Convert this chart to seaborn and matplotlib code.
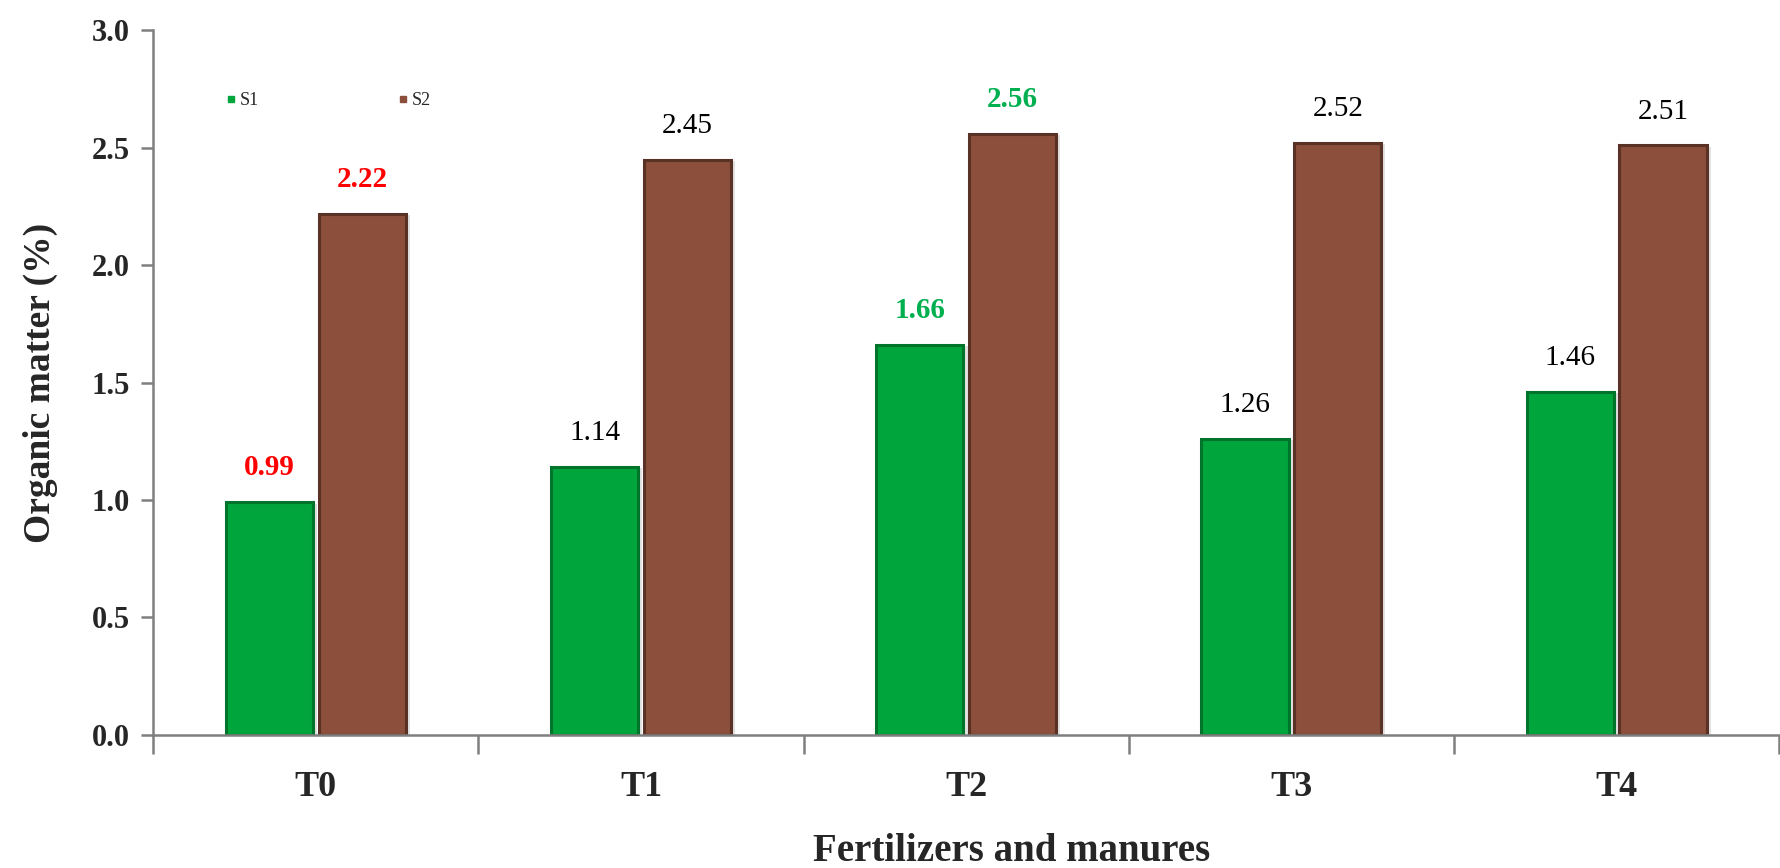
import matplotlib
matplotlib.use("Agg")
import matplotlib.pyplot as plt
import seaborn as sns
import pandas as pd
from matplotlib.lines import Line2D
from matplotlib.ticker import FixedLocator, NullFormatter
import matplotlib.patheffects as pe

# Data
treatments = ["T0", "T1", "T2", "T3", "T4"]
s1_values = [0.99, 1.14, 1.66, 1.26, 1.46]
s2_values = [2.22, 2.45, 2.56, 2.52, 2.51]
series_names = ["S1", "S2"]
s1_label_colors = ["#ff0000", "#000000", "#00b050", "#000000", "#000000"]
s2_label_colors = ["#ff0000", "#000000", "#00b050", "#000000", "#000000"]

df = pd.DataFrame({
    "Treatment": treatments * 2,
    "Series": [series_names[0]] * len(treatments) + [series_names[1]] * len(treatments),
    "Value": s1_values + s2_values,
})

sns.set_theme(style="white")
plt.rcParams["font.family"] = ["Liberation Serif", "DejaVu Serif"]

fill_colors = {"S1": "#00a53c", "S2": "#8b4f3c"}
edge_colors = {"S1": "#00742a", "S2": "#5a3225"}

fig = plt.figure(figsize=(17.81, 8.68), dpi=100)
ax = fig.add_axes([0.086, 0.1535, 0.913, 0.8115])

sns.barplot(data=df, x="Treatment", y="Value", hue="Series", order=treatments,
            hue_order=series_names, palette=fill_colors, width=0.57, gap=0.06,
            ax=ax, legend=False, saturation=1)

# Shadows and darker outlines on the bars
n = len(treatments)
for i, patch in enumerate(ax.patches[:2 * n]):
    key = series_names[i // n]
    patch.set_edgecolor(edge_colors[key])
    patch.set_linewidth(2.2)
    patch.set_path_effects([pe.SimplePatchShadow(offset=(3, -1), shadow_rgbFace="#cfcfcf", alpha=0.6),
                            pe.Normal()])

# Value labels above bars
for i, patch in enumerate(ax.patches[:2 * n]):
    s = i // n
    j = i % n
    val = s1_values[j] if s == 0 else s2_values[j]
    col = (s1_label_colors if s == 0 else s2_label_colors)[j]
    bold = col != "#000000"
    ax.annotate(f"{val:.2f}", (patch.get_x() + patch.get_width() / 2, val),
                xytext=(0, 15), textcoords="offset points", ha="center", va="bottom",
                fontsize=21, color=col, fontweight="bold" if bold else "normal")

ax.set_ylim(0, 3.0)
ax.set_xlim(-0.5, n - 0.5)
ax.set_yticks([0, 0.5, 1.0, 1.5, 2.0, 2.5, 3.0])
ax.set_yticklabels([f"{v:.1f}" for v in [0, 0.5, 1.0, 1.5, 2.0, 2.5, 3.0]])

for side in ["top", "right"]:
    ax.spines[side].set_visible(False)
for side in ["left", "bottom"]:
    ax.spines[side].set_color("#7f7f7f")
    ax.spines[side].set_linewidth(1.8)

ax.tick_params(axis="y", which="major", left=True, length=9, width=1.8, color="#7f7f7f",
               labelsize=22, pad=8)
ax.tick_params(axis="x", which="major", bottom=False, labelsize=26, pad=20)
ax.xaxis.set_minor_locator(FixedLocator([k - 0.5 for k in range(n + 1)]))
ax.xaxis.set_minor_formatter(NullFormatter())
ax.tick_params(axis="x", which="minor", bottom=True, length=14, width=1.8, color="#7f7f7f")
for lbl in ax.get_xticklabels() + ax.get_yticklabels():
    lbl.set_fontweight("bold")

ax.set_xlabel("Fertilizers and manures", fontsize=28, fontweight="bold", va="center")
ax.xaxis.set_label_coords(0.528, -0.166)
ax.set_ylabel("Organic matter (%)", fontsize=27, fontweight="bold", labelpad=24)

handles = [Line2D([0], [0], marker="s", linestyle="none", markersize=5,
                  markerfacecolor=fill_colors[k], markeredgecolor=fill_colors[k]) for k in series_names]
ax.legend(handles, series_names, loc="upper left", bbox_to_anchor=(0.035, 0.935), ncol=2,
          frameon=False, fontsize=13, handlelength=0.5, handletextpad=0.25, columnspacing=7.7)

fig.savefig("out.png", dpi=100)
